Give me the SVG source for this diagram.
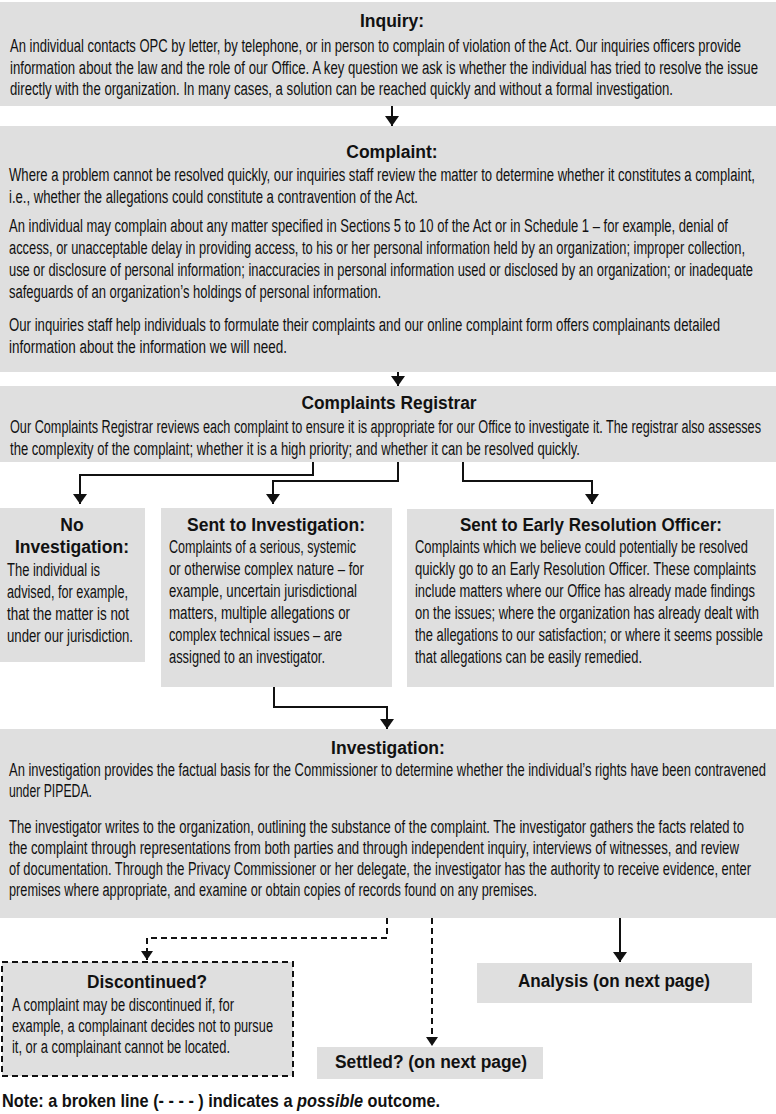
<svg xmlns="http://www.w3.org/2000/svg" width="776" height="1114" viewBox="0 0 776 1114">
<defs>
<style>
.box{fill:#dfdfdf;stroke:none}
.dbox{fill:#dfdfdf;stroke:#111;stroke-width:2;stroke-dasharray:6 4}
.b{font-family:"Liberation Sans Narrow","Liberation Sans",Arial,sans-serif;font-size:18px;fill:#111}
.t{font-family:"Liberation Sans",Arial,sans-serif;font-size:17.5px;font-weight:bold;fill:#111;text-anchor:middle}
.c{fill:none;stroke:#111;stroke-width:2}
.d{fill:none;stroke:#111;stroke-width:2;stroke-dasharray:6 4}
.note{font-family:"Liberation Sans Narrow","Liberation Sans",Arial,sans-serif;font-size:19px;font-weight:bold;fill:#111}
</style>
<marker id="ah" markerUnits="userSpaceOnUse" markerWidth="11" markerHeight="14" refX="10" refY="7" orient="auto">
<path d="M0,0 L10,7 L0,14 z" fill="#111"/>
</marker>
<marker id="ahs" markerUnits="userSpaceOnUse" markerWidth="10" markerHeight="12" refX="9" refY="6" orient="auto">
<path d="M0,0 L9,6 L0,12 z" fill="#111"/>
</marker>
</defs>

<g id="inquiry">
<rect class="box" x="0" y="2" width="776" height="104"/>
<text class="t" x="392" y="27">Inquiry:</text>
<text class="b" x="10" y="52" textLength="731" lengthAdjust="spacingAndGlyphs">An individual contacts OPC by letter, by telephone, or in person to complain of violation of the Act. Our inquiries officers provide</text>
<text class="b" x="10" y="74" textLength="748" lengthAdjust="spacingAndGlyphs">information about the law and the role of our Office.  A key question we ask is whether the individual has tried to resolve the issue</text>
<text class="b" x="10" y="95" textLength="663" lengthAdjust="spacingAndGlyphs">directly with the organization.  In many cases, a solution can be reached quickly and without a formal investigation.</text>
</g>

<g id="complaint">
<rect class="box" x="0" y="126" width="776" height="246"/>
<text class="t" x="392" y="158">Complaint:</text>
<text class="b" x="9" y="181" textLength="746" lengthAdjust="spacingAndGlyphs">Where a problem cannot be resolved quickly, our inquiries staff review the matter to determine whether it constitutes a complaint,</text>
<text class="b" x="9" y="203" textLength="409" lengthAdjust="spacingAndGlyphs">i.e., whether the allegations could constitute a contravention of the Act.</text>
<text class="b" x="9" y="232" textLength="719" lengthAdjust="spacingAndGlyphs">An individual may complain about any matter specified in Sections 5 to 10 of the Act or in Schedule 1 – for example, denial of</text>
<text class="b" x="9" y="254" textLength="736" lengthAdjust="spacingAndGlyphs">access, or unacceptable delay in providing access, to his or her personal information held by an organization; improper collection,</text>
<text class="b" x="9" y="276" textLength="744" lengthAdjust="spacingAndGlyphs">use or disclosure of personal information; inaccuracies in personal information used or disclosed by an organization; or inadequate</text>
<text class="b" x="9" y="298" textLength="372" lengthAdjust="spacingAndGlyphs">safeguards of an organization’s holdings of personal information.</text>
<text class="b" x="9" y="331" textLength="711" lengthAdjust="spacingAndGlyphs">Our inquiries staff help individuals to formulate their complaints and our online complaint form offers complainants detailed</text>
<text class="b" x="9" y="353" textLength="278" lengthAdjust="spacingAndGlyphs">information about the information we will need.</text>
</g>

<g id="registrar">
<rect class="box" x="0" y="386" width="776" height="76"/>
<text class="t" x="389" y="409" textLength="175" lengthAdjust="spacingAndGlyphs">Complaints Registrar</text>
<text class="b" x="10" y="433" textLength="751" lengthAdjust="spacingAndGlyphs">Our Complaints Registrar reviews each complaint to ensure it is appropriate for our Office to investigate it.  The registrar also assesses</text>
<text class="b" x="10" y="455" textLength="570" lengthAdjust="spacingAndGlyphs">the complexity of the complaint; whether it is a high priority; and whether it can be resolved quickly.</text>
</g>

<g id="no-investigation">
<rect class="box" x="0" y="508" width="145" height="154"/>
<text class="t" x="72" y="531">No</text>
<text class="t" x="72" y="553" textLength="114" lengthAdjust="spacingAndGlyphs">Investigation:</text>
<text class="b" x="7" y="576" textLength="93" lengthAdjust="spacingAndGlyphs">The individual is</text>
<text class="b" x="7" y="598" textLength="121" lengthAdjust="spacingAndGlyphs">advised, for example,</text>
<text class="b" x="7" y="620" textLength="122" lengthAdjust="spacingAndGlyphs">that the matter is not</text>
<text class="b" x="7" y="642" textLength="126" lengthAdjust="spacingAndGlyphs">under our jurisdiction.</text>
</g>

<g id="sent-to-investigation">
<rect class="box" x="161" y="508" width="231" height="179"/>
<text class="t" x="276" y="531" textLength="178" lengthAdjust="spacingAndGlyphs">Sent to Investigation:</text>
<text class="b" x="169" y="553" textLength="187" lengthAdjust="spacingAndGlyphs">Complaints of a serious, systemic</text>
<text class="b" x="169" y="575" textLength="195" lengthAdjust="spacingAndGlyphs">or otherwise complex nature – for</text>
<text class="b" x="169" y="597" textLength="188" lengthAdjust="spacingAndGlyphs">example, uncertain jurisdictional</text>
<text class="b" x="169" y="619" textLength="181" lengthAdjust="spacingAndGlyphs">matters, multiple allegations or</text>
<text class="b" x="169" y="641" textLength="173" lengthAdjust="spacingAndGlyphs">complex technical issues – are</text>
<text class="b" x="169" y="663" textLength="156" lengthAdjust="spacingAndGlyphs">assigned to an investigator.</text>
</g>

<g id="early-resolution">
<rect class="box" x="407" y="509" width="367" height="178"/>
<text class="t" x="591" y="531" textLength="262" lengthAdjust="spacingAndGlyphs">Sent to Early Resolution Officer:</text>
<text class="b" x="415" y="553" textLength="333" lengthAdjust="spacingAndGlyphs">Complaints which we believe could potentially be resolved</text>
<text class="b" x="415" y="575" textLength="341" lengthAdjust="spacingAndGlyphs">quickly go to an Early Resolution Officer.  These complaints</text>
<text class="b" x="415" y="597" textLength="340" lengthAdjust="spacingAndGlyphs">include matters where our Office has already made findings</text>
<text class="b" x="415" y="619" textLength="344" lengthAdjust="spacingAndGlyphs">on the issues; where the organization has already dealt with</text>
<text class="b" x="415" y="641" textLength="348" lengthAdjust="spacingAndGlyphs">the allegations to our satisfaction; or where it seems possible</text>
<text class="b" x="415" y="663" textLength="227" lengthAdjust="spacingAndGlyphs">that allegations can be easily remedied.</text>
</g>

<g id="investigation">
<rect class="box" x="0" y="729" width="776" height="189"/>
<text class="t" x="388" y="754">Investigation:</text>
<text class="b" x="9" y="776" textLength="757" lengthAdjust="spacingAndGlyphs">An investigation provides the factual basis for the Commissioner to determine whether the individual’s rights have been contravened</text>
<text class="b" x="9" y="797" textLength="83" lengthAdjust="spacingAndGlyphs">under PIPEDA.</text>
<text class="b" x="9" y="833" textLength="735" lengthAdjust="spacingAndGlyphs">The investigator writes to the organization, outlining the substance of the complaint. The investigator gathers the facts related to</text>
<text class="b" x="9" y="854" textLength="730" lengthAdjust="spacingAndGlyphs">the complaint through representations from both parties and through independent inquiry, interviews of witnesses, and review</text>
<text class="b" x="9" y="875" textLength="742" lengthAdjust="spacingAndGlyphs">of documentation. Through the Privacy Commissioner or her delegate, the investigator has the authority to receive evidence, enter</text>
<text class="b" x="9" y="896" textLength="528" lengthAdjust="spacingAndGlyphs">premises where appropriate, and examine or obtain copies of records found on any premises.</text>
</g>

<g id="discontinued">
<rect class="dbox" x="2" y="962" width="291" height="114"/>
<text class="t" x="147" y="988" textLength="120" lengthAdjust="spacingAndGlyphs">Discontinued?</text>
<text class="b" x="12" y="1011" textLength="222" lengthAdjust="spacingAndGlyphs">A complaint may be discontinued if, for</text>
<text class="b" x="12" y="1032" textLength="261" lengthAdjust="spacingAndGlyphs">example, a complainant decides not to pursue</text>
<text class="b" x="12" y="1053" textLength="218" lengthAdjust="spacingAndGlyphs">it, or a complainant cannot be located.</text>
</g>

<g id="analysis">
<rect class="box" x="477" y="963" width="275" height="40"/>
<text class="t" x="614" y="987" textLength="192" lengthAdjust="spacingAndGlyphs">Analysis (on next page)</text>
</g>

<g id="settled">
<rect class="box" x="317" y="1047" width="226" height="32"/>
<text class="t" x="431" y="1068" textLength="192" lengthAdjust="spacingAndGlyphs">Settled? (on next page)</text>
</g>

<g id="note">
<text class="note" x="2" y="1107" textLength="438" lengthAdjust="spacingAndGlyphs">Note: a broken line (- - - - ) indicates a <tspan font-style="italic">possible</tspan> outcome.</text>
</g>

<g id="connectors">
<path class="c" d="M392,106 V126" marker-end="url(#ah)"/>
<path class="c" d="M398,372 V386" marker-end="url(#ah)"/>
<path class="c" d="M313,462 V475 H80 V504" marker-end="url(#ah)"/>
<path class="c" d="M398,462 V481 H273 V504" marker-end="url(#ah)"/>
<path class="c" d="M463,462 V481 H592 V504" marker-end="url(#ah)"/>
<path class="c" d="M274,687 V707 H387 V729" marker-end="url(#ah)"/>
<path class="d" d="M387,918 V938 H147 V960" marker-end="url(#ahs)"/>
<path class="d" d="M432,918 V1046" marker-end="url(#ahs)"/>
<path class="c" d="M620,918 V962" marker-end="url(#ah)"/>
</g>
</svg>
